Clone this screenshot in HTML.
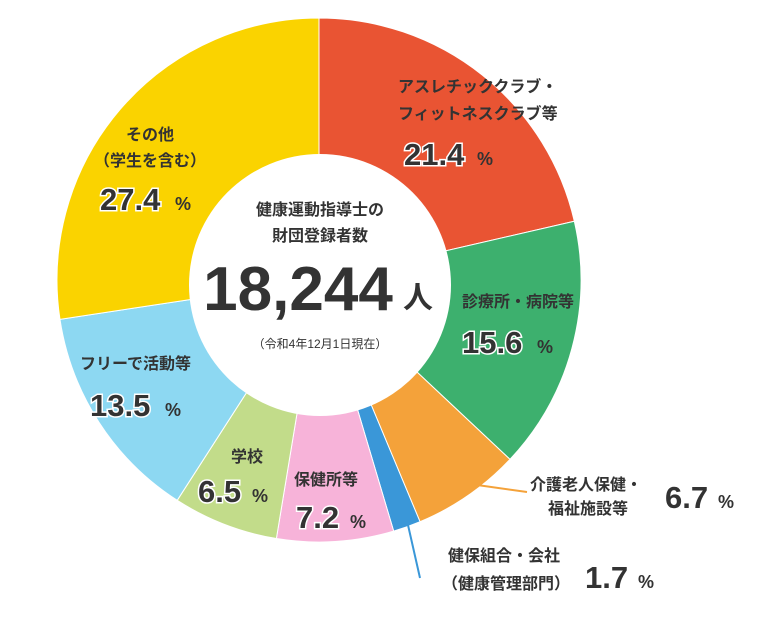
<!DOCTYPE html>
<html><head><meta charset="utf-8"><style>
html,body{margin:0;padding:0;background:#fff;}
svg{display:block;}
text{font-family:"Liberation Sans","Noto Sans CJK JP",sans-serif;fill:#333;}
.l{font-size:16px;font-weight:bold;}
.n{font-size:31px;font-weight:bold;stroke:#fff;stroke-width:3px;paint-order:stroke;}
.p{font-size:18px;font-weight:bold;}
</style></head><body>
<svg width="760" height="633" viewBox="0 0 760 633" xmlns="http://www.w3.org/2000/svg">
<g id="pie"></g>
<line x1="470" y1="484" x2="527" y2="492" stroke="#F4A23A" stroke-width="2"/>
<line x1="408" y1="525" x2="420" y2="578" stroke="#3A97D8" stroke-width="2"/>
<circle cx="320" cy="285" r="131" fill="#fff"/>
<text x="320" y="215" text-anchor="middle" class="l">健康運動指導士の</text>
<text x="320" y="241" text-anchor="middle" class="l">財団登録者数</text>
<text x="298" y="310" text-anchor="middle" style="font-size:62px;font-weight:bold">18,244</text>
<text x="418" y="308" text-anchor="middle" style="font-size:30px;font-weight:bold">人</text>
<text x="320" y="348" text-anchor="middle" style="font-size:12px">（令和4年12月1日現在）</text>

<text x="398" y="92" class="l">アスレチッククラブ・</text>
<text x="398" y="119" class="l">フィットネスクラブ等</text>
<text x="404" y="165" class="n">21.4</text><text x="477" y="165" class="p">%</text>

<text x="150" y="140" text-anchor="middle" class="l">その他</text>
<text x="150" y="166" text-anchor="middle" class="l">（学生を含む）</text>
<text x="100" y="210" class="n">27.4</text><text x="175" y="210" class="p">%</text>

<text x="462" y="307" class="l">診療所・病院等</text>
<text x="462" y="353" class="n">15.6</text><text x="537" y="353" class="p">%</text>

<text x="80" y="369" class="l">フリーで活動等</text>
<text x="90" y="416" class="n">13.5</text><text x="165" y="416" class="p">%</text>

<text x="247" y="462" text-anchor="middle" class="l">学校</text>
<text x="198" y="502" class="n">6.5</text><text x="252" y="502" class="p">%</text>

<text x="294" y="485" class="l">保健所等</text>
<text x="296" y="528" class="n">7.2</text><text x="350" y="528" class="p">%</text>

<text x="530" y="490" class="l">介護老人保健・</text>
<text x="548" y="514" class="l">福祉施設等</text>
<text x="665" y="508" class="n">6.7</text><text x="718" y="508" class="p">%</text>

<text x="448" y="561" class="l">健保組合・会社</text>
<text x="442" y="589" class="l">（健康管理部門）</text>
<text x="585" y="588" class="n">1.7</text><text x="638" y="588" class="p">%</text>
</svg>
<script>
(function(){
var cx=319,cy=280,R=262;
var d=[[21.4,"#E95433"],[15.6,"#3DB06E"],[6.7,"#F4A23A"],[1.7,"#3A97D8"],[7.2,"#F7B3D9"],[6.5,"#C2DC8A"],[13.5,"#8DD8F2"],[27.4,"#FAD300"]];
var g=document.getElementById("pie"),a=0,ns="http://www.w3.org/2000/svg";
d.forEach(function(s){
var a2=a+s[0]/100*2*Math.PI;
var x1=cx+R*Math.sin(a),y1=cy-R*Math.cos(a),x2=cx+R*Math.sin(a2),y2=cy-R*Math.cos(a2);
var p=document.createElementNS(ns,"path");
p.setAttribute("d","M"+cx+","+cy+"L"+x1+","+y1+"A"+R+","+R+" 0 "+((a2-a)>Math.PI?1:0)+" 1 "+x2+","+y2+"Z");
p.setAttribute("fill",s[1]);p.setAttribute("stroke","#fff");p.setAttribute("stroke-width","1");
g.appendChild(p);a=a2;});
})();
</script>
</body></html>
